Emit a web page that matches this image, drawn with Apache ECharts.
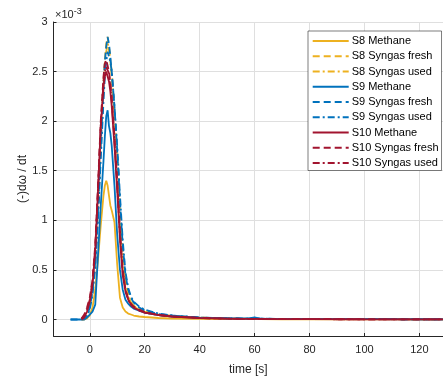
<!DOCTYPE html>
<html>
<head>
<meta charset="utf-8">
<script src="https://cdn.jsdelivr.net/npm/echarts@6/dist/echarts.min.js"></script>
<style>html,body{margin:0;padding:0;background:#fff;}#c{width:443px;height:381px;}</style>
</head>
<body>
<div id="c"></div>
<script>
// time [s]
const time = [-7,-5,-3,-2,-1,0,1,2,3,4,5,5.5,6,6.5,7,7.5,8,9,10,11,12,13,14,15,16,18,20,25,30,40,50,58,60,62,70,80,100,130];
// values in units of 1e-3
const s8Methane    = [null,null,0,0,0.01,0.04,0.12,0.3,0.6,0.95,1.25,1.35,1.4,1.35,1.25,1.15,1.1,0.98,0.55,0.22,0.12,0.08,0.06,0.05,0.04,0.03,0.025,0.015,0.01,0.006,0.004,0.003,0.003,0.003,0.002,0.002,0.001,0.001];
const s8SynFresh   = [null,null,0,0.01,0.05,0.15,0.32,0.62,1.15,1.8,2.4,2.62,2.78,2.85,2.72,2.6,2.45,2.05,1.62,1.1,0.65,0.38,0.24,0.17,0.13,0.1,0.08,0.05,0.035,0.018,0.01,0.007,0.007,0.006,0.005,0.004,0.003,0.002];
const s8SynUsed    = [null,null,0,0.01,0.04,0.12,0.28,0.55,1.05,1.7,2.3,2.55,2.7,2.78,2.75,2.62,2.5,2.1,1.7,1.15,0.7,0.4,0.25,0.18,0.14,0.1,0.08,0.05,0.035,0.018,0.01,0.007,0.007,0.006,0.005,0.004,0.003,0.002];
const s9Methane    = [0,0,0,0,0.02,0.05,0.08,0.15,0.65,1.15,1.6,1.85,2.05,2.11,1.95,1.88,1.75,1.35,0.85,0.5,0.3,0.2,0.16,0.13,0.11,0.09,0.07,0.045,0.03,0.018,0.012,0.01,0.02,0.008,0.007,0.005,0.003,0.002];
const s9SynFresh   = [0,0,0,0.01,0.04,0.12,0.28,0.58,1.1,1.75,2.35,2.6,2.75,2.85,2.78,2.65,2.5,2.15,1.7,1.2,0.75,0.45,0.3,0.22,0.17,0.12,0.09,0.055,0.04,0.02,0.012,0.008,0.015,0.008,0.006,0.004,0.003,0.002];
const s9SynUsed    = [null,null,0,0.01,0.03,0.1,0.25,0.52,1.0,1.62,2.2,2.45,2.6,2.7,2.72,2.6,2.5,2.15,1.75,1.25,0.8,0.48,0.32,0.23,0.18,0.13,0.1,0.06,0.04,0.02,0.012,0.008,0.012,0.008,0.006,0.004,0.003,0.002];
const s10Methane   = [null,null,0,0.02,0.08,0.18,0.35,0.7,1.3,1.95,2.35,2.45,2.5,2.5,2.4,2.3,2.15,1.75,1.3,0.8,0.45,0.28,0.2,0.15,0.12,0.09,0.07,0.045,0.03,0.015,0.008,0.006,0.006,0.005,0.004,0.003,0.002,0.001];
const s10SynFresh  = [null,null,0.01,0.05,0.12,0.22,0.4,0.75,1.35,2.0,2.45,2.58,2.62,2.6,2.5,2.38,2.25,1.85,1.4,0.9,0.5,0.3,0.21,0.16,0.13,0.1,0.075,0.045,0.03,0.015,0.008,0.006,0.006,0.005,0.004,0.003,0.002,0.001];
const s10SynUsed   = [null,null,0.01,0.04,0.1,0.2,0.38,0.72,1.3,1.95,2.4,2.5,2.55,2.56,2.48,2.35,2.2,1.8,1.35,0.85,0.48,0.3,0.2,0.15,0.12,0.09,0.07,0.045,0.03,0.015,0.008,0.006,0.006,0.005,0.004,0.003,0.002,0.001];

const names = ['S8 Methane','S8 Syngas fresh','S8 Syngas used','S9 Methane','S9 Syngas fresh','S9 Syngas used','S10 Methane','S10 Syngas fresh','S10 Syngas used'];
const values = [s8Methane,s8SynFresh,s8SynUsed,s9Methane,s9SynFresh,s9SynUsed,s10Methane,s10SynFresh,s10SynUsed];
const xTicks = [0,20,40,60,80,100,120];
const yTicks = [0,0.5,1,1.5,2,2.5,3];

const colors = ['#EDB120','#0072BD','#A2142F'];
const dashes = ['solid',[7,4],[7,3,2,3]];
const FONT = 'Liberation Sans, Arial, sans-serif';
const AX = '#262626';

const series = names.map((n,i)=>({
  name:n, type:'line', showSymbol:false, symbol:'none', animation:false,
  data: time.map((t,k)=>[t, values[i][k]]),
  lineStyle:{color:colors[Math.floor(i/3)], width:1.8, type:dashes[i%3]},
  itemStyle:{color:colors[Math.floor(i/3)]}
}));

const chart = echarts.init(document.getElementById('c'));
chart.setOption({
  animation:false,
  grid:{left:53.5, top:22, width:389.5, bottom:45, containLabel:false},
  xAxis:{type:'value', min:-13.2, max:128.6,
    name:'time [s]', nameLocation:'middle', nameGap:28, nameMoveOverlap:false,
    nameTextStyle:{fontFamily:FONT,fontSize:12,color:AX},
    axisLine:{show:true,onZero:false,lineStyle:{color:AX,width:1}},
    axisTick:{show:true,inside:true,length:3,customValues:xTicks,lineStyle:{color:AX}},
    axisLabel:{customValues:xTicks,fontFamily:FONT,fontSize:11,color:AX,margin:8},
    splitLine:{show:true,lineStyle:{color:'#dfdfdf',width:1}}},
  yAxis:{type:'value', min:-0.1666, max:3,
    name:'(-)dω / dt', nameLocation:'middle', nameGap:25, nameRotate:90, nameMoveOverlap:false,
    nameTextStyle:{fontFamily:FONT,fontSize:12,color:AX},
    axisLine:{show:true,onZero:false,lineStyle:{color:AX,width:1}},
    axisTick:{show:true,inside:true,length:3,customValues:yTicks,lineStyle:{color:AX}},
    axisLabel:{customValues:yTicks,fontFamily:FONT,fontSize:11,color:AX,margin:6},
    splitLine:{show:true,lineStyle:{color:'#dfdfdf',width:1}}},
  legend:{orient:'vertical', left:308, top:31, padding:[4.5,3,2,3.7],
    itemWidth:36, itemHeight:10, itemGap:4.25,
    itemStyle:{opacity:0},
    backgroundColor:'#fff', borderColor:AX, borderWidth:0.6,
    textStyle:{fontFamily:FONT,fontSize:11,color:'#000',padding:[0,0,0,-2]},
    data:names},
  graphic:[{type:'text', left:55, top:7,
    style:{rich:{a:{fontFamily:FONT,fontSize:11,fill:AX},b:{fontFamily:FONT,fontSize:9,fill:AX,verticalAlign:'top',padding:[0,0,6,0]}},
      text:'{a|×10}{b|-3}'}}],
  series:series
});
</script>
</body>
</html>
